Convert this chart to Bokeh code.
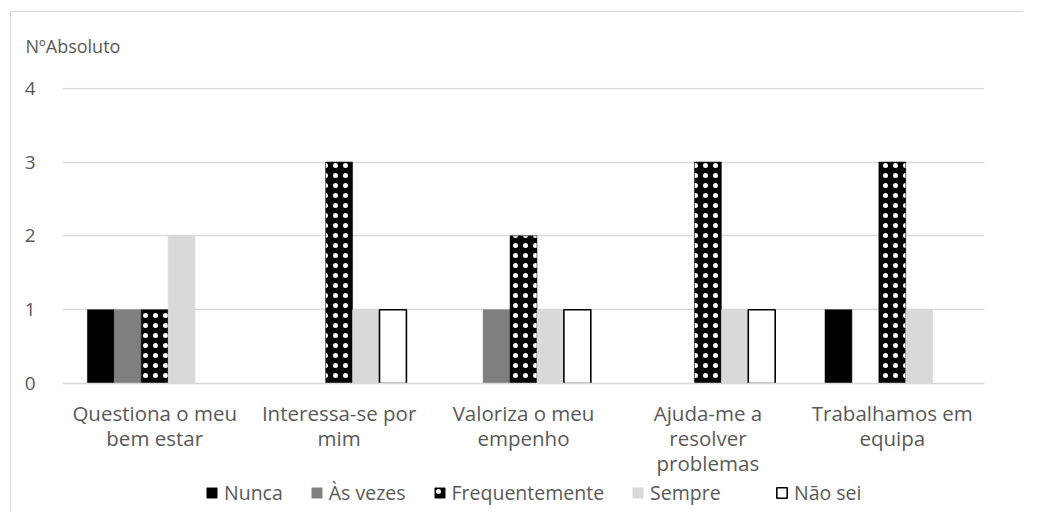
from bokeh.plotting import figure
from bokeh.layouts import column
from bokeh.models import (FactorRange, Range1d, Legend, LegendItem,
                          ColumnDataSource, FixedTicker, CDSView, BooleanFilter)
from bokeh.transform import dodge
from bokeh.embed import file_html
from bokeh.resources import INLINE

# ---- data ----
categories = ["Questiona o meu\nbem estar", "Interessa-se por\nmim", "Valoriza o meu\nempenho",
              "Ajuda-me a\nresolver\nproblemas", "Trabalhamos em\nequipa"]
series = ["Nunca", "Às vezes", "Frequentemente", "Sempre", "Não sei"]
nunca = [1, 0, 0, 0, 1]
as_vezes = [1, 0, 1, 0, 0]
frequentemente = [1, 3, 2, 3, 3]
sempre = [2, 1, 1, 1, 1]
nao_sei = [0, 1, 1, 1, 0]
y_ticks = [0, 1, 2, 3, 4]
y_title = "NºAbsoluto"

values = [nunca, as_vezes, frequentemente, sempre, nao_sei]

FONT = "Open Sans"
TXT = "#595959"

xr = FactorRange(*categories, range_padding=0)
p = figure(width=1023, height=479, output_backend="svg", toolbar_location=None,
           x_range=xr, y_range=Range1d(0, 4.01),
           min_border_left=62, min_border_right=39, min_border_top=87, min_border_bottom=96)
p.outline_line_color = None
p.background_fill_color = "white"
p.border_fill_alpha = 0

p.title.text = y_title
p.title.align = "left"
p.title.offset = -37
p.title.standoff = 60
p.title.text_font = FONT
p.title.text_font_size = "18px"
p.title.text_font_style = "normal"
p.title.text_color = TXT

p.xgrid.grid_line_color = None
p.ygrid.grid_line_color = "#d9d9d9"
p.ygrid.grid_line_width = 1.3
p.yaxis.ticker = FixedTicker(ticks=y_ticks)
p.yaxis.axis_line_color = None
p.yaxis.major_tick_line_color = None
p.yaxis.minor_tick_line_color = None
p.yaxis.major_label_standoff = 21
p.yaxis.major_label_text_font = FONT
p.yaxis.major_label_text_font_size = "19px"
p.yaxis.major_label_text_color = TXT

p.xaxis.axis_line_color = "#d9d9d9"
p.xaxis.axis_line_width = 1.3
p.xaxis.major_tick_line_color = None
p.xaxis.minor_tick_line_color = None
p.xaxis.major_label_standoff = 9
p.xaxis.major_label_text_font = FONT
p.xaxis.major_label_text_font_size = "20.5px"
p.xaxis.major_label_text_color = TXT
p.xaxis.major_label_text_line_height = 0.9

w = 0.146
styles = [
    dict(fill_color="#000000", line_color="#000000", line_width=0.5),
    dict(fill_color="#7f7f7f", line_color="#7f7f7f", line_width=0.5),
    dict(fill_color="#000000", line_color="#000000", line_width=0.5,
         hatch_pattern="dot", hatch_color="white", hatch_scale=10, hatch_weight=1.1),
    dict(fill_color="#d9d9d9", line_color="#d9d9d9", line_width=0.5),
    dict(fill_color="white", line_color="black", line_width=1.6),
]

sources = []
for i, (name, vals) in enumerate(zip(series, values)):
    src = ColumnDataSource(dict(cat=categories, v=vals))
    view = CDSView(filter=BooleanFilter([v > 0 for v in vals]))
    sources.append(src)
    p.vbar(x=dodge("cat", (i - 2) * w, range=xr), top="v", width=w,
           source=src, view=view, **styles[i])

# ---- legend strip (separate figure so the legend is not clipped) ----
lf = figure(width=1023, height=33, output_backend="svg", toolbar_location=None,
            x_range=xr, y_range=Range1d(0, 4), x_axis_type=None, y_axis_type=None,
            min_border_left=62, min_border_right=39, min_border_top=0, min_border_bottom=0)
lf.outline_line_color = None
lf.background_fill_alpha = 0
lf.border_fill_alpha = 0
lf.xgrid.visible = False
lf.ygrid.visible = False
lrs = []
for i in range(5):
    r = lf.vbar(x=dodge("cat", (i - 2) * w, range=xr), top="v", width=w,
                source=sources[i], **styles[i])
    r.visible = False
    lrs.append(r)

common = dict(orientation="horizontal", background_fill_alpha=0, border_line_color=None,
              padding=0, margin=0, spacing=27, label_standoff=6, glyph_width=13, glyph_height=13,
              label_text_font=FONT, label_text_font_size="19.5px", label_text_color=TXT,
              label_height=20, inactive_fill_alpha=0, click_policy="none")
leg1 = Legend(items=[LegendItem(label=series[i], renderers=[lrs[i]]) for i in range(4)],
              location=(143, 6), **common)
leg2 = Legend(items=[LegendItem(label=series[4], renderers=[lrs[4]])],
              location=(713, 6), **common)
lf.add_layout(leg1, "center")
lf.add_layout(leg2, "center")

layout = column(p, lf, spacing=0)
layout.styles = {"box-shadow": "inset 10px 11px 0 0 #ffffff, inset 11px 12px 0 0 #d9d9d9",
                 "background-color": "white"}

open("out.html", "w").write(file_html(layout, INLINE))
